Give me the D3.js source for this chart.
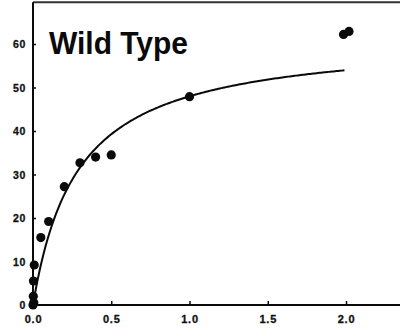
<!DOCTYPE html>
<html>
<head>
<meta charset="utf-8">
<script src="https://cdn.jsdelivr.net/npm/d3@7"></script>
<style>
  html, body { margin: 0; padding: 0; background: #fff; }
  svg { display: block; }
  .tick text { font-family: "Liberation Sans", Arial, sans-serif; font-weight: bold; fill: #111; }
</style>
</head>
<body>
<svg id="chart" width="400" height="332"></svg>
<script>
// Substrate concentration (x) and measured rate (y), wild type
const conc = [0.0, 0.005, 0.002, 0.003, 0.008, 0.05, 0.1, 0.2, 0.3, 0.4, 0.5, 1.0, 1.984, 2.019];
const rate = [0.0, 0.5, 2.0, 5.5, 9.2, 15.5, 19.2, 27.2, 32.7, 34.0, 34.5, 47.9, 62.2, 62.9];

// Axis ticks
const xTicks = [0.0, 0.5, 1.0, 1.5, 2.0];
const xTickLabels = ["0.0", "0.5", "1.0", "1.5", "2.0"];
const yTicks = [0, 10, 20, 30, 40, 50, 60];
const yTickLabels = ["0", "10", "20", "30", "40", "50", "60"];

// Fitted hyperbola (Michaelis–Menten): rate = vmax * c / (km + c)
const vmax = 61.7;
const km = 0.286;
const fitRange = [0, 1.99];

const title = "Wild Type";

const svg = d3.select("#chart");
const W = 400, H = 332;

const x = d3.scaleLinear().domain([0, 2.35]).range([33, 400.8]);
const y = d3.scaleLinear().domain([0, 70]).range([305, 0.5]);

const ink = "#0a0a0a";

// Frame: top rule
svg.append("line")
  .attr("x1", x(0)).attr("x2", W)
  .attr("y1", y(69.6)).attr("y2", y(69.6))
  .attr("stroke", "#333").attr("stroke-width", 2);

// Y axis
const yAxis = d3.axisLeft(y)
  .tickValues(yTicks)
  .tickFormat((d, i) => yTickLabels[i])
  .tickSizeInner(-3).tickSizeOuter(0).tickPadding(7);
const gy = svg.append("g").attr("transform", `translate(${x(0)},0)`).call(yAxis);
gy.select(".domain").attr("stroke", ink).attr("stroke-width", 2)
  .attr("d", `M0,${y(69.6)}V${y(0) + 1}`);
gy.selectAll(".tick line").attr("stroke", ink).attr("stroke-width", 1.5);
gy.selectAll(".tick text").attr("font-size", 10.5).attr("letter-spacing", 0.6)
  .attr("dy", "0.35em").attr("stroke", "#111").attr("stroke-width", 0.3);

// X axis
const xAxis = d3.axisBottom(x)
  .tickValues(xTicks)
  .tickFormat((d, i) => xTickLabels[i])
  .tickSizeInner(-4).tickSizeOuter(0).tickPadding(10);
const gx = svg.append("g").attr("transform", `translate(0,${y(0)})`).call(xAxis);
gx.select(".domain").attr("stroke", ink).attr("stroke-width", 2)
  .attr("d", `M${x(0) - 1},0H${W}`);
gx.selectAll(".tick line").attr("stroke", ink).attr("stroke-width", 1.5);
gx.selectAll(".tick text").attr("font-size", 11).attr("letter-spacing", 0.8)
  .attr("dy", "0.7em").attr("stroke", "#111").attr("stroke-width", 0.3);

// Fitted curve
const fitPts = d3.range(0, 201).map(i => {
  const c = fitRange[0] + (fitRange[1] - fitRange[0]) * i / 200;
  return [c, vmax * c / (km + c)];
});
svg.append("path")
  .datum(fitPts)
  .attr("fill", "none")
  .attr("stroke", ink)
  .attr("stroke-width", 2)
  .attr("d", d3.line().x(d => x(d[0])).y(d => y(d[1])));

// Data points
svg.append("g")
  .selectAll("circle")
  .data(conc.map((c, i) => [c, rate[i]]))
  .join("circle")
  .attr("cx", d => x(d[0]))
  .attr("cy", d => y(d[1]))
  .attr("r", 4.6)
  .attr("fill", ink);

// Panel title
svg.append("text")
  .attr("x", 49)
  .attr("y", 53.5)
  .attr("font-family", "Liberation Sans, Arial, sans-serif")
  .attr("font-weight", "bold")
  .attr("font-size", 31)
  .attr("textLength", 139)
  .attr("lengthAdjust", "spacingAndGlyphs")
  .attr("fill", ink)
  .text(title);
</script>
</body>
</html>
